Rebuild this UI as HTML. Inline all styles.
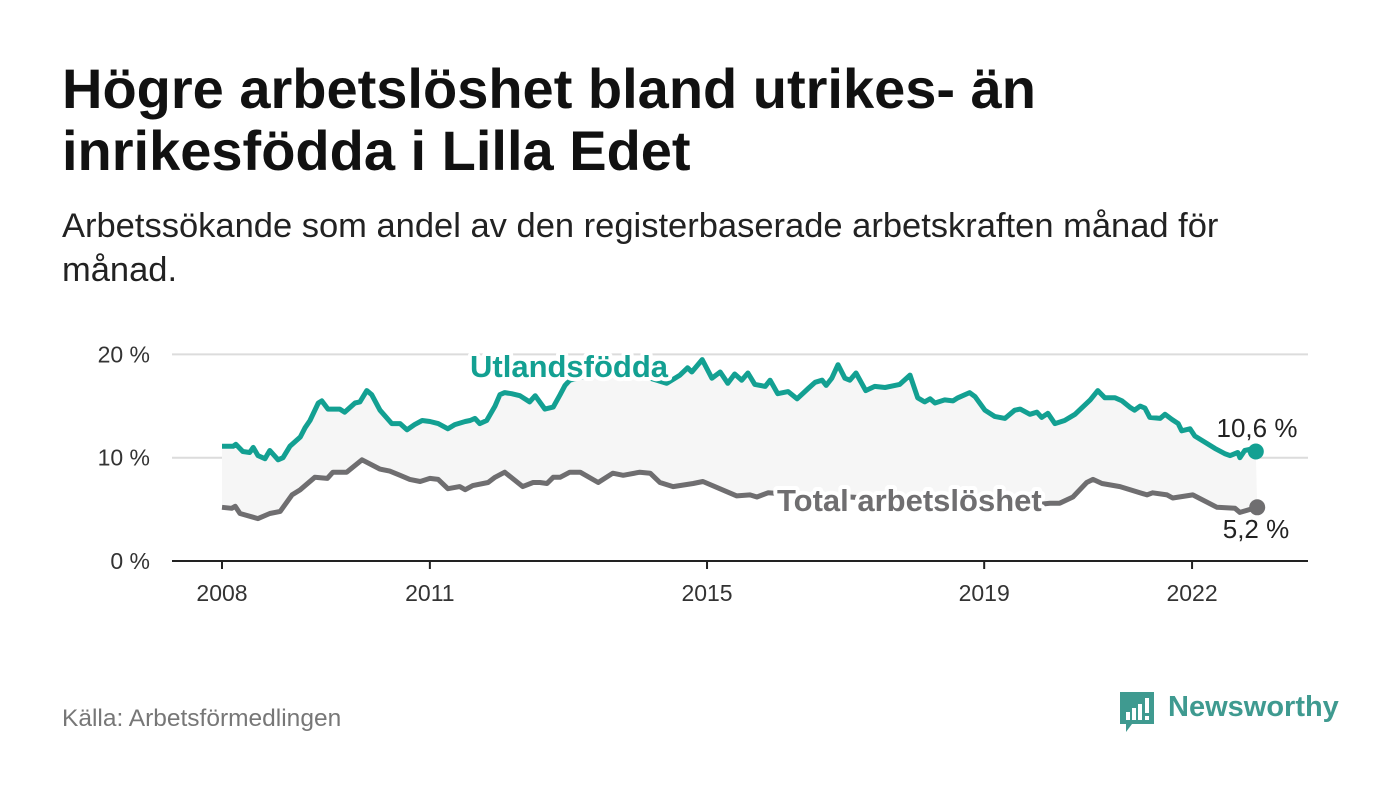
<!DOCTYPE html>
<html><head><meta charset="utf-8">
<style>
body{margin:0;background:#fff;width:1400px;height:794px;overflow:hidden;font-family:"Liberation Sans",sans-serif;}
h1{position:absolute;left:62px;top:58px;margin:0;font-size:56px;line-height:62px;font-weight:bold;color:#111;width:1040px;}
.sub{position:absolute;left:62px;top:204px;margin:0;font-size:34.5px;line-height:44px;color:#222;width:1230px;}
.src{position:absolute;left:62px;top:705px;font-size:24.5px;color:#777;}
</style></head><body>
<h1>Högre arbetslöshet bland utrikes- än inrikesfödda i Lilla Edet</h1>
<p class="sub">Arbetssökande som andel av den registerbaserade arbetskraften månad för månad.</p>
<svg id="chart" width="1400" height="794" style="position:absolute;left:0;top:0"></svg>
<div class="src">Källa: Arbetsförmedlingen</div>
<div style="position:absolute;left:1118px;top:690px;">
<svg width="40" height="46"><path d="M2 2h34v32H14l-6 8v-8H2z" fill="#3f9a90"/><rect x="8" y="22" width="4" height="8" fill="#fff"/><rect x="14" y="18" width="4" height="12" fill="#fff"/><rect x="20" y="14" width="4" height="16" fill="#fff"/><rect x="27" y="8" width="4" height="15" fill="#fff"/><rect x="27" y="26" width="4" height="4" fill="#fff"/></svg>
<span style="position:absolute;left:50px;top:1px;font-size:29px;font-weight:bold;color:#3f9a90;white-space:nowrap">Newsworthy</span>
</div>
<script>
const tealDates=[2008.00,2008.16,2008.20,2008.30,2008.40,2008.45,2008.52,2008.62,2008.69,2008.81,2008.88,2008.98,2009.13,2009.20,2009.27,2009.39,2009.44,2009.53,2009.70,2009.77,2009.92,2009.99,2010.09,2010.16,2010.28,2010.45,2010.57,2010.67,2010.78,2010.89,2011.00,2011.12,2011.26,2011.36,2011.51,2011.58,2011.65,2011.72,2011.82,2011.94,2012.01,2012.08,2012.18,2012.30,2012.44,2012.52,2012.66,2012.78,2012.88,2012.95,2013.02,2013.31,2013.60,2013.89,2014.18,2014.42,2014.61,2014.72,2014.78,2014.93,2015.07,2015.19,2015.30,2015.40,2015.50,2015.59,2015.69,2015.84,2015.91,2016.02,2016.17,2016.30,2016.46,2016.56,2016.66,2016.72,2016.80,2016.89,2016.99,2017.06,2017.15,2017.29,2017.42,2017.57,2017.78,2017.93,2018.04,2018.14,2018.22,2018.29,2018.43,2018.55,2018.62,2018.79,2018.87,2019.01,2019.15,2019.30,2019.44,2019.52,2019.66,2019.76,2019.83,2019.92,2020.02,2020.16,2020.31,2020.53,2020.64,2020.74,2020.89,2020.99,2021.10,2021.17,2021.25,2021.32,2021.39,2021.54,2021.61,2021.71,2021.80,2021.85,2021.97,2022.04,2022.21,2022.33,2022.47,2022.55,2022.66,2022.69,2022.76,2022.83,2022.92];
const tealValues=[11.1,11.1,11.3,10.6,10.5,11.0,10.2,9.9,10.7,9.8,10.0,11.1,12.0,12.9,13.6,15.3,15.5,14.7,14.7,14.4,15.3,15.4,16.5,16.1,14.6,13.3,13.3,12.7,13.2,13.6,13.5,13.3,12.8,13.2,13.5,13.6,13.8,13.3,13.6,15.0,16.1,16.3,16.2,16.0,15.4,16.0,14.7,14.9,16.1,17.0,17.5,18.0,18.3,18.1,17.7,17.2,18.0,18.7,18.3,19.5,17.7,18.3,17.2,18.1,17.5,18.2,17.1,16.9,17.5,16.2,16.4,15.7,16.7,17.3,17.5,17.0,17.7,19.0,17.7,17.5,18.2,16.5,16.9,16.8,17.1,18.0,15.8,15.4,15.7,15.3,15.6,15.5,15.8,16.3,15.9,14.6,14.0,13.8,14.6,14.7,14.2,14.4,13.9,14.3,13.3,13.6,14.2,15.6,16.5,15.8,15.8,15.5,14.9,14.6,15.0,14.8,13.9,13.8,14.2,13.7,13.3,12.6,12.8,12.1,11.4,10.9,10.4,10.2,10.5,10.0,10.7,10.8,10.6];
const totalDates=[2008.00,2008.14,2008.19,2008.26,2008.52,2008.69,2008.84,2009.01,2009.13,2009.34,2009.52,2009.60,2009.80,2010.02,2010.28,2010.42,2010.57,2010.71,2010.86,2011.00,2011.12,2011.26,2011.43,2011.51,2011.62,2011.84,2011.94,2012.08,2012.34,2012.49,2012.59,2012.69,2012.78,2012.88,2013.02,2013.17,2013.43,2013.64,2013.79,2014.03,2014.18,2014.32,2014.51,2014.80,2014.94,2015.29,2015.43,2015.62,2015.72,2015.88,2016.34,2017.06,2017.78,2018.51,2019.23,2019.66,2019.95,2020.09,2020.28,2020.48,2020.57,2020.70,2020.96,2021.35,2021.43,2021.64,2021.72,2022.01,2022.36,2022.62,2022.69,2022.94];
const totalValues=[5.2,5.1,5.3,4.6,4.1,4.6,4.8,6.4,6.9,8.1,8.0,8.6,8.6,9.8,8.9,8.7,8.3,7.9,7.7,8.0,7.9,7.0,7.2,6.9,7.3,7.6,8.1,8.6,7.2,7.6,7.6,7.5,8.1,8.1,8.6,8.6,7.6,8.5,8.3,8.6,8.5,7.6,7.2,7.5,7.7,6.7,6.3,6.4,6.2,6.6,6.4,6.2,5.9,5.6,5.4,5.4,5.6,5.6,6.2,7.6,7.9,7.5,7.2,6.4,6.6,6.4,6.1,6.4,5.2,5.1,4.7,5.2];
const yTicks=[0,10,20];
const yTickLabels=["0 %","10 %","20 %"];
const xTicks=[2008,2011,2015,2019,2022];

const NS="http://www.w3.org/2000/svg";
const svg=document.getElementById('chart');
const X=t=>222+(t-2008)*69.29;
const Y=v=>561-v*10.33;
function el(tag,attrs,parent){const e=document.createElementNS(NS,tag);for(const k in attrs)e.setAttribute(k,attrs[k]);(parent||svg).appendChild(e);return e;}
yTicks.forEach((v,i)=>{
  if(v>0){const g=el('line',{x1:172,x2:1308,y1:Y(v),y2:Y(v),stroke:'#dcdcdc','stroke-width':2});
  
  }
  const t=el('text',{x:150,y:Y(v)+8,'text-anchor':'end','font-size':23,fill:'#333','font-family':'Liberation Sans, sans-serif'});
  t.textContent=yTickLabels[i];
  
  
});
let pts=tealDates.map((d,i)=>X(d)+','+Y(tealValues[i]));
for(let i=totalDates.length-1;i>=0;i--)pts.push(X(totalDates[i])+','+Y(totalValues[i]));
const area=el('polygon',{points:pts.join(' '),fill:'#f6f6f6'});


const ax=el('line',{x1:172,x2:1308,y1:561,y2:561,stroke:'#222','stroke-width':2});


xTicks.forEach(y=>{
  const tk=el('line',{x1:X(y),x2:X(y),y1:561,y2:569,stroke:'#222','stroke-width':2});
  
  
  const t=el('text',{x:X(y),y:601,'text-anchor':'middle','font-size':23,fill:'#333','font-family':'Liberation Sans, sans-serif'});
  t.textContent=y;
  
  
});
function line(dates,vals,color,name){
  const d=dates.map((t,i)=>(i?'L':'M')+X(t).toFixed(1)+','+Y(vals[i]).toFixed(1)).join('');
  const p=el('path',{d:d,fill:'none',stroke:color,'stroke-width':5,'stroke-linejoin':'round'});
  
  
  const n=dates.length-1;
  const c=el('circle',{cx:X(dates[n]),cy:Y(vals[n]),r:8,fill:color});
  
  
}
line(totalDates,totalValues,'#6f6e70','total-line');
line(tealDates,tealValues,'#13a092','utlandsfodda-line');
function label(txt,x,y,color,size,bold,name,anchor){
  const t=el('text',{x:x,y:y,fill:color,'font-size':size,'font-weight':bold?'bold':'normal','font-family':'Liberation Sans, sans-serif',stroke:'#fff','stroke-width':bold?8:5,'paint-order':'stroke','stroke-linejoin':'round','text-anchor':anchor||'start'});
  t.textContent=txt;
  
  
}
label('Utlandsfödda',470,377,'#13a092',31,true,'utlandsfodda-label');
label('Total arbetslöshet',777,511,'#6f6e70',31,true,'total-label');
label('10,6 %',1257,437,'#222',26,false,'utlandsfodda-end-value','middle');
label('5,2 %',1256,538,'#222',26,false,'total-end-value','middle');
</script>
</body></html>
